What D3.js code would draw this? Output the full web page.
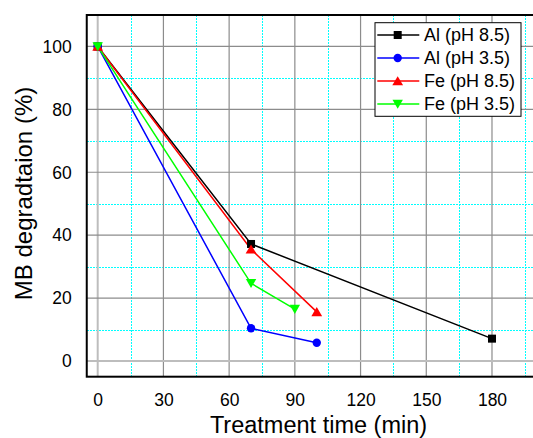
<!DOCTYPE html>
<html>
<head>
<meta charset="utf-8">
<script src="https://cdn.jsdelivr.net/npm/d3@7"></script>
<style>
html,body{margin:0;padding:0;background:#fff;}
svg{display:block;font-family:Arial,"Liberation Sans",sans-serif;}
</style>
</head>
<body>
<svg id="chart" width="533" height="438"></svg>
<script>
// ---- data ----
const seriesNames = ["Al (pH 8.5)", "Al (pH 3.5)", "Fe (pH 8.5)", "Fe (pH 3.5)"];
const alPH85Time = [0, 70, 180];
const alPH85Val  = [100, 37.2, 7.1];
const alPH35Time = [0, 70, 100];
const alPH35Val  = [100, 10.4, 5.8];
const fePH85Time = [0, 70, 100];
const fePH85Val  = [100, 35.5, 15.6];
const fePH35Time = [0, 70, 90];
const fePH35Val  = [100, 24.7, 16.5];
const xTicks = [0, 30, 60, 90, 120, 150, 180];
const yTicks = [0, 20, 40, 60, 80, 100];
const xMinor = [15, 45, 75, 105, 135, 165, 195];
const yMinor = [10, 30, 50, 70, 90];

const colors = ["#000000", "#0000ff", "#ff0000", "#00ff00"];
const shapes = ["square", "circle", "up", "down"];
const series = [
  {name: seriesNames[0], t: alPH85Time, v: alPH85Val},
  {name: seriesNames[1], t: alPH35Time, v: alPH35Val},
  {name: seriesNames[2], t: fePH85Time, v: fePH85Val},
  {name: seriesNames[3], t: fePH35Time, v: fePH35Val}
].map((s, i) => ({...s, color: colors[i], shape: shapes[i],
  pts: s.t.map((t, j) => ({t, v: s.v[j]}))}));

// ---- layout ----
const L = 86.75, R = 535.8, T = 15, B = 376.7;
const x = d3.scaleLinear().domain([-5, 200]).range([L, R]);
const y = d3.scaleLinear().domain([-5, 110]).range([B, T]);
const px = v => Math.round(v) + 0.5;

const svg = d3.select("#chart");
svg.append("defs").append("clipPath").attr("id", "clip")
  .append("rect").attr("x", L).attr("y", T).attr("width", R - L).attr("height", B - T);

const grid = svg.append("g").attr("clip-path", "url(#clip)");
// minor grid (cyan dotted)
grid.selectAll(".mx").data(xMinor).join("line")
  .attr("x1", d => px(x(d))).attr("x2", d => px(x(d))).attr("y1", T).attr("y2", B)
  .attr("stroke", "#00ffff").attr("stroke-width", 1).attr("stroke-dasharray", "2,1")
  .attr("shape-rendering", "crispEdges");
grid.selectAll(".my").data(yMinor).join("line")
  .attr("y1", d => px(y(d))).attr("y2", d => px(y(d))).attr("x1", L).attr("x2", R)
  .attr("stroke", "#00ffff").attr("stroke-width", 1).attr("stroke-dasharray", "2,1")
  .attr("shape-rendering", "crispEdges");
// major grid
grid.selectAll(".Mx").data(xTicks).join("line")
  .attr("x1", d => x(d)).attr("x2", d => x(d)).attr("y1", T).attr("y2", B)
  .attr("stroke", d => d === 0 ? "#bdbdbd" : "#8c8c8c").attr("stroke-width", d => d === 0 ? 2 : 1.2);
grid.selectAll(".My").data(yTicks).join("line")
  .attr("y1", d => y(d)).attr("y2", d => y(d)).attr("x1", L).attr("x2", R)
  .attr("stroke", d => d === 0 ? "#bdbdbd" : "#8c8c8c").attr("stroke-width", d => d === 0 ? 2 : 1.2);

// frame
svg.append("rect").attr("x", L).attr("y", T).attr("width", R - L).attr("height", B - T)
  .attr("fill", "none").attr("stroke", "#000").attr("stroke-width", 2);

// axes labels via d3 axes (no domain/tick lines)
const xAxis = svg.append("g").attr("transform", `translate(0,${B})`)
  .call(d3.axisBottom(x).tickValues(xTicks).tickSize(0).tickPadding(0));
xAxis.select(".domain").remove();
xAxis.selectAll("text").attr("font-size", "17.5px").attr("fill", "#000")
  .attr("font-family", "Arial, 'Liberation Sans', sans-serif")
  .attr("y", 29).attr("dy", 0);

const yAxis = svg.append("g").attr("transform", `translate(${L},0)`)
  .call(d3.axisLeft(y).tickValues(yTicks).tickSize(0).tickPadding(0));
yAxis.select(".domain").remove();
yAxis.selectAll("text").attr("font-size", "17.5px").attr("fill", "#000")
  .attr("font-family", "Arial, 'Liberation Sans', sans-serif")
  .attr("x", -15).attr("dy", "0.33em");

// axis titles
svg.append("text").attr("x", 318.5).attr("y", 433).attr("text-anchor", "middle")
  .attr("font-size", "23.5px").text("Treatment time (min)");
svg.append("text").attr("transform", "translate(31.5,193.5) rotate(-90)")
  .attr("text-anchor", "middle").attr("font-size", "24px").text("MB degradtaion (%)");

// symbol drawing
function drawSymbol(g, shape, color) {
  if (shape === "square") {
    g.append("rect").attr("x", -4).attr("y", -4).attr("width", 8).attr("height", 8).attr("fill", color);
  } else if (shape === "circle") {
    g.append("circle").attr("r", 4.2).attr("fill", color);
  } else if (shape === "up") {
    g.append("path").attr("d", "M0,-4.8L5.4,4.3L-5.4,4.3Z").attr("fill", color);
  } else {
    g.append("path").attr("d", "M0,4.8L5.2,-4.3L-5.2,-4.3Z").attr("fill", color);
  }
}

const line = d3.line().x(d => x(d.t)).y(d => y(d.v));
const plot = svg.append("g").attr("clip-path", "url(#clip)");
series.forEach(s => {
  plot.append("path").datum(s.pts).attr("d", line)
    .attr("fill", "none").attr("stroke", s.color).attr("stroke-width", 1.5);
});
series.forEach(s => {
  s.pts.forEach(p => {
    const g = plot.append("g").attr("transform", `translate(${x(p.t)},${y(p.v)})`);
    drawSymbol(g, s.shape, s.color);
  });
});

// legend
const lg = svg.append("g");
lg.append("rect").attr("x", 375).attr("y", 22.7).attr("width", 146).attr("height", 93.6)
  .attr("fill", "#fff").attr("stroke", "#000").attr("stroke-width", 1);
series.forEach((s, i) => {
  const cy = 35 + i * 23;
  lg.append("line").attr("x1", 377.3).attr("x2", 419.3).attr("y1", cy).attr("y2", cy)
    .attr("stroke", s.color).attr("stroke-width", 1.5);
  const g = lg.append("g").attr("transform", `translate(397.7,${cy})`);
  drawSymbol(g, s.shape, s.color);
  lg.append("text").attr("x", 424).attr("y", cy).attr("dy", "0.35em")
    .attr("font-size", "18px").text(s.name);
});
</script>
</body>
</html>
